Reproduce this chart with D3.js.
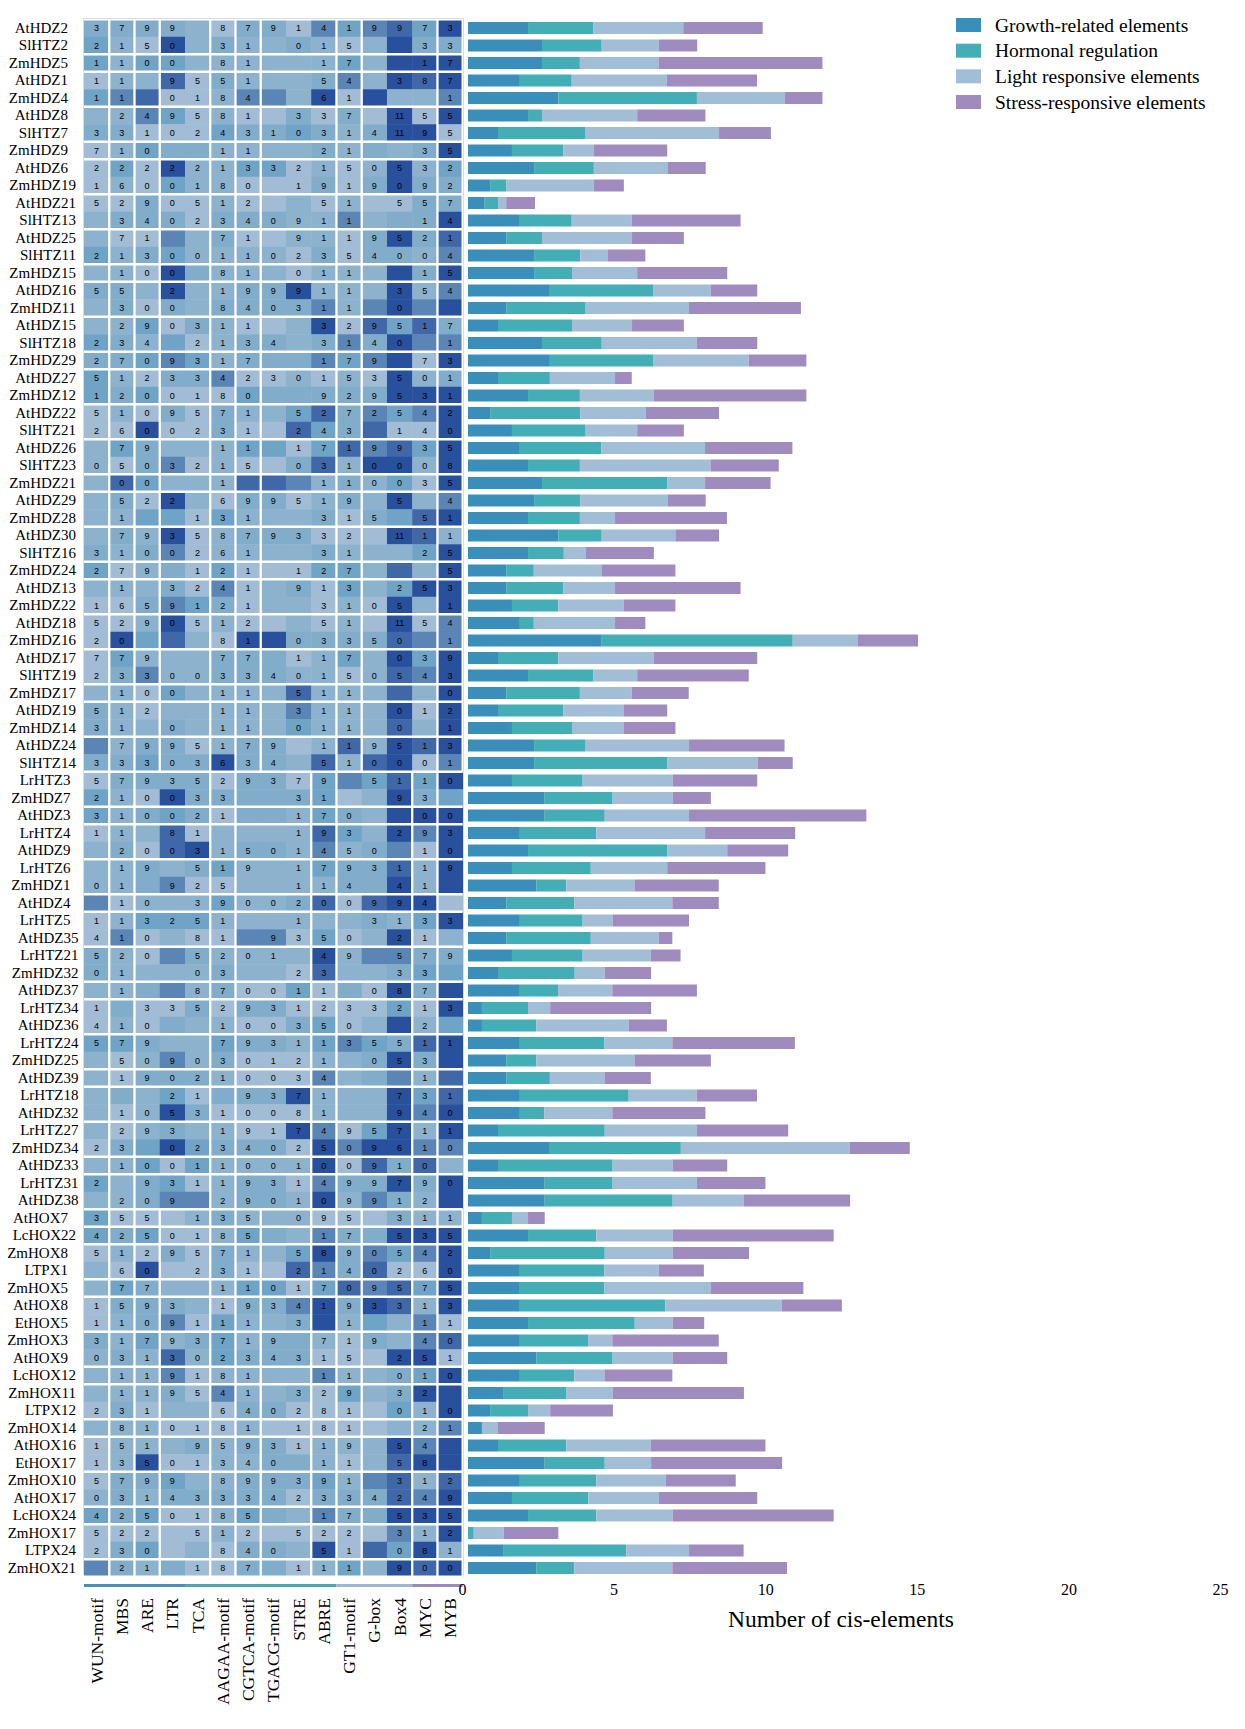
<!DOCTYPE html>
<html>
  <head>
    <title>Cis-elements</title>
    <style>
      body {
        margin: 0;
        background: #fff;
      }
      text {
        font-family: 'Liberation Serif', serif;
        fill: #000;
      }
    </style>
  </head>
  <body>
    <script src="https://cdn.jsdelivr.net/npm/d3@7"></script>
    <script>
      const width = 1245;
      const height = 1729;

      const geneNames = [
        'AtHDZ2', 'SlHTZ2', 'ZmHDZ5', 'AtHDZ1', 'ZmHDZ4', 'AtHDZ8', 'SlHTZ7', 'ZmHDZ9', 'AtHDZ6', 'ZmHDZ19',
        'AtHDZ21', 'SlHTZ13', 'AtHDZ25', 'SlHTZ11', 'ZmHDZ15', 'AtHDZ16', 'ZmHDZ11', 'AtHDZ15', 'SlHTZ18', 'ZmHDZ29',
        'AtHDZ27', 'ZmHDZ12', 'AtHDZ22', 'SlHTZ21', 'AtHDZ26', 'SlHTZ23', 'ZmHDZ21', 'AtHDZ29', 'ZmHDZ28', 'AtHDZ30',
        'SlHTZ16', 'ZmHDZ24', 'AtHDZ13', 'ZmHDZ22', 'AtHDZ18', 'ZmHDZ16', 'AtHDZ17', 'SlHTZ19', 'ZmHDZ17', 'AtHDZ19',
        'ZmHDZ14', 'AtHDZ24', 'SlHTZ14', 'LrHTZ3', 'ZmHDZ7', 'AtHDZ3', 'LrHTZ4', 'AtHDZ9', 'LrHTZ6', 'ZmHDZ1',
        'AtHDZ4', 'LrHTZ5', 'AtHDZ35', 'LrHTZ21', 'ZmHDZ32', 'AtHDZ37', 'LrHTZ34', 'AtHDZ36', 'LrHTZ24', 'ZmHDZ25',
        'AtHDZ39', 'LrHTZ18', 'AtHDZ32', 'LrHTZ27', 'ZmHDZ34', 'AtHDZ33', 'LrHTZ31', 'AtHDZ38', 'AtHOX7', 'LcHOX22',
        'ZmHOX8', 'LTPX1', 'ZmHOX5', 'AtHOX8', 'EtHOX5', 'ZmHOX3', 'AtHOX9', 'LcHOX12', 'ZmHOX11', 'LTPX12',
        'ZmHOX14', 'AtHOX16', 'EtHOX17', 'ZmHOX10', 'AtHOX17', 'LcHOX24', 'ZmHOX17', 'LTPX24', 'ZmHOX21'
      ];

      const elementNames = [
        'WUN-motif', 'MBS', 'ARE', 'LTR', 'TCA', 'AAGAA-motif', 'CGTCA-motif', 'TGACG-motif',
        'STRE', 'ABRE', 'GT1-motif', 'G-box', 'Box4', 'MYC', 'MYB'
      ];

      const categoryNames = [
        'Growth-related elements', 'Hormonal regulation', 'Light responsive elements', 'Stress-responsive elements'
      ];
      const categoryColors = ['#3a8fba', '#43aeb5', '#a2bed6', '#9f8bbe'];
      const stripColors = ['#4a90b5', '#4aa9ad', '#9fb6cf', '#9b8bba'];
      // how many heatmap columns each category covers
      const categoryColumns = [4, 6, 3, 2];

      const levelColors = ['#a1bcd4', '#8db2cd', '#81adca', '#6fa4c6', '#5a85b4', '#4068a8', '#28509c'];

      // bars, one array per category, in axis units
      const growthValues = [
        1.98, 2.44, 2.44, 1.71, 2.98, 1.98, 0.99, 1.45, 2.18, 0.73, 0.55, 1.71, 1.26, 2.18, 2.18, 2.7, 1.26, 0.99, 2.44, 2.7,
        0.99, 1.98, 0.73, 1.45, 1.71, 1.98, 2.44, 2.18, 1.98, 2.98, 1.98, 1.26, 1.26, 1.45, 1.71, 4.41, 0.99, 1.98, 1.26, 0.99,
        1.45, 2.18, 2.18, 1.45, 2.53, 2.53, 1.71, 1.98, 1.45, 2.25, 1.26, 1.71, 1.26, 1.45, 0.99, 1.71, 0.46, 0.46, 1.71, 1.26,
        1.26, 1.71, 1.71, 0.99, 2.7, 0.99, 2.53, 2.53, 0.46, 1.98, 0.73, 1.71, 1.71, 1.71, 1.98, 1.71, 2.25, 1.71, 1.18, 0.73,
        0.46, 0.99, 2.53, 1.71, 1.45, 1.98, 0, 1.18, 2.25
      ];
      const hormoneValues = [
        2.16, 1.97, 1.25, 1.71, 4.57, 0.46, 2.89, 1.7, 1.97, 0.54, 0.44, 1.71, 1.18, 1.52, 1.25, 3.42, 2.62, 2.44, 1.97, 3.42,
        1.71, 1.71, 2.97, 2.43, 2.69, 1.71, 4.13, 1.52, 1.71, 1.43, 1.18, 0.91, 1.89, 1.53, 0.46, 6.3, 1.99, 2.16, 2.43, 2.16,
        1.98, 1.7, 4.4, 2.33, 2.24, 1.98, 2.52, 4.59, 2.6, 0.99, 2.25, 2.07, 2.79, 2.33, 2.53, 1.26, 1.52, 1.79, 2.79, 0.99,
        1.44, 3.59, 0.81, 3.52, 4.32, 3.78, 2.24, 4.22, 0.99, 2.25, 3.78, 2.79, 2.79, 4.8, 3.52, 2.25, 2.52, 1.8, 2.07, 1.25,
        0, 2.25, 1.98, 2.52, 2.52, 2.25, 0.19, 4.04, 1.26
      ];
      const lightValues = [
        2.96, 1.89, 2.6, 3.14, 2.89, 3.14, 4.4, 0.99, 2.43, 2.88, 0.27, 1.98, 2.97, 0.9, 2.15, 1.89, 3.41, 1.98, 3.14, 3.14,
        2.15, 2.43, 2.16, 1.7, 3.42, 4.32, 1.25, 2.88, 1.16, 2.43, 0.73, 2.23, 1.7, 2.15, 2.68, 2.15, 3.14, 1.44, 1.71, 1.98,
        1.7, 3.41, 2.97, 2.97, 1.98, 2.78, 3.59, 1.98, 2.52, 2.25, 3.23, 0.99, 2.24, 2.25, 0.99, 1.79, 0.73, 3.05, 2.24, 3.24,
        1.8, 2.24, 2.24, 3.04, 5.57, 1.98, 2.78, 2.34, 0.53, 2.52, 2.24, 1.79, 3.51, 3.84, 1.25, 0.8, 1.98, 0.99, 1.53, 0.73,
        0.53, 2.79, 1.53, 2.29, 2.33, 2.52, 0.99, 2.07, 3.23
      ];
      const stressValues = [
        2.62, 1.26, 5.4, 2.97, 1.25, 2.25, 1.71, 2.43, 1.26, 0.99, 0.95, 3.59, 1.71, 1.25, 2.97, 1.53, 3.69, 1.71, 1.99, 1.9,
        0.55, 5.04, 2.42, 1.54, 2.88, 2.24, 2.16, 1.26, 3.69, 1.44, 2.24, 2.44, 4.14, 1.71, 1, 1.98, 3.42, 3.68, 1.88, 1.44,
        1.71, 3.15, 1.16, 2.79, 1.26, 5.85, 2.97, 2.01, 3.24, 2.78, 1.53, 2.52, 0.45, 0.98, 1.53, 2.79, 3.33, 1.26, 4.04, 2.52,
        1.53, 1.99, 3.07, 3.01, 1.98, 1.8, 2.26, 3.51, 0.55, 5.31, 2.52, 1.49, 3.05, 1.98, 1.04, 3.51, 1.8, 2.24, 4.32, 2.07,
        1.54, 3.78, 4.32, 2.31, 3.24, 5.31, 1.8, 1.8, 3.78
      ];
      const axisTicks = [0, 5, 10, 15, 20, 25];

      // heatmap: one string per gene, one character per element, index into levelColors
      const heatLevels = [
        '222210220434536', '310612112101622', '313311111131666', '011502111241656', '345001441606114',
        '114301002020606', '220003223212660', '013221111212126', '030611330101613', '010311000202622',
        '002001001010022', '122202221141226', '100412001102625', '312311110202214', '110621110111626',
        '221611226111614', '120212222414646', '113021001605352', '321301221242644', '223431222434606',
        '310224001010612', '323000322222666', '010202113524346', '006002005325006', '132111330354536',
        '102401002516616', '153111554121306', '120610220121614', '113303111202356', '121601222000651',
        '212401111211136', '301203000331516', '111204012031366', '002432011010616', '001601001010604',
        '063510662222544', '031112220131636', '024112221101546', '110311115111516', '210111114111606',
        '211211113111516', '412201220151656', '223226221515604', '022220220343536', '310622222301623',
        '312320221321666', '011501111531646', '120561221412406', '112123111322516', '112400111122616',
        '401113112505660', '013331111112136', '040100440301601', '210421111614422', '211112110511233',
        '112412003020626', '020020220000306', '010211002301613', '332113221343256', '101412000112626',
        '102221000412415', '121302226111635', '101620000111646', '101211006403616', '023632220646644',
        '113031111605251', '312301220422626', '112441221614216', '300012111000211', '323001321422666',
        '010202113624346', '106002005425006', '132111330354536', '022210224626516', '012403112613140',
        '213123122102145', '121513222000660', '111401111411236', '111204112031266', '020110220000316',
        '111000100000114', '011121220111646', '016001122101566', '022311222314515', '121222220222546',
        '323001321422666', '000001000000416', '023010221605361', '421200220131656'
      ];

      // number printed in each cell, '.' is no number, 'a' is 11
      const heatCounts = [
        '3799.8791419973', '2150.31.015..33', '1100.81..17..17', '11.9551..54.387', '11.0184..61...1',
        '.249581.337.a55', '331024310314a95', '710..11..21..35', '222221332150532', '1600180.1919092',
        '5290512..51.557', '.3402340911..14', '.71..71.9119521', '213001102354004', '.100.81.011..15',
        '55.2.199911.354', '.300.840311.0..', '.290311..329517', '234.2134.3140.1', '2709317..179.73',
        '512334230153501', '1200180..929531', '5109571.5272542', '2600231.243.140', '.79..11.1719935',
        '0503215.0310008', '.00..1...110035', '.522.699519.5.4', '.1..131..315.51', '.7935879332.a11',
        '3100261..31..25', '279.121.127...5', '.1.3241.913.253', '1659121..3105.1', '5290512..51.a54',
        '20...81.03350.1', '779..77.117.039', '233003340150543', '.100.11.511...0', '512..11.311.012',
        '31.0.11.011.0.1', '.7995179.119513', '33303634.510001', '5793529379.5110', '210033..31..93.',
        '310021..170..00', '11.81...193.293', '.20031501450.10', '.19.519.1793119', '01.925..114.41.',
        '.10.3900200994.', '113251..1..3133', '410.81.9350.21.', '520.5201.49.579', '01..03..23..33.',
        '.1..870011.087.', '1.3352931233213', '410..100350..2.', '579..7931135511', '.509030121.053.',
        '.190210034...1.', '...21.9371..731', '.105310081..940', '.293.1917495711', '23.023402509610',
        '.1001100100910.', '2.9311931499790', '.209.290109912.', '355.135.095.311', '4250185..17.535',
        '5129571.5890542', '.60.231.2140260', '.77..1101709575', '1593.1934193313', '1109111.3.1..11',
        '31793719.719.40', '03130234315.251', '.119181..11.010', '.119541.329.32.', '231..640281.010',
        '.810181.181..21', '151.9593119.54.', '13501340.11.58.', '5799.899391.312', '031433342334249',
        '4250185..17.535', '522.512.522.312', '230..840.51.081', '.21.187.111.900'
      ];

      // last gene of each tree cluster, a white gap follows it
      const rowBreaks = [
        1, 2, 4, 6, 7, 9, 11, 13, 14, 16, 18, 19, 21, 23, 25, 26, 28, 30, 31, 33, 35, 37, 38, 40, 42, 44, 45, 47, 49, 50,
        52, 54, 55, 57, 59, 60, 62, 64, 65, 67, 68, 69, 71, 72, 74, 76, 77, 79, 80, 82, 84, 85, 87, 88
      ];
      // the three blocks of the heatmap have different column clusters
      const blocks = [
        { from: 0, to: 42, breaks: [0, 1, 2, 4, 5, 6, 9, 10, 13, 14] },
        { from: 43, to: 67, breaks: [0, 1, 4, 5, 8, 9, 12, 13] },
        { from: 68, to: 88, breaks: [0, 1, 2, 4, 5, 6, 8, 9, 10, 12, 13, 14] }
      ];

      const svg = d3
        .select('body')
        .append('svg')
        .attr('width', width)
        .attr('height', height)
        .style('display', 'block');

      const y = d3.scaleBand().domain(geneNames).range([19.25, 1576.75]);
      const x = d3.scaleBand().domain(elementNames).range([84, 462.7]);
      const barX = d3.scaleLinear().domain([0, 25]).range([468, 1226]);
      const levelColor = d3.scaleOrdinal().domain(d3.range(levelColors.length)).range(levelColors);

      // heatmap cells
      const cells = geneNames.flatMap((gene, i) =>
        elementNames.map((element, j) => ({
          gene,
          element,
          level: +heatLevels[i][j],
          count: heatCounts[i][j]
        }))
      );

      const heat = svg.append('g');
      heat
        .selectAll('rect')
        .data(cells)
        .enter()
        .append('rect')
        .attr('x', (d) => x(d.element))
        .attr('y', (d) => y(d.gene))
        .attr('width', x.bandwidth() + 0.5)
        .attr('height', y.bandwidth() + 0.5)
        .attr('fill', (d) => levelColor(d.level));

      heat
        .selectAll('text')
        .data(cells.filter((d) => d.count !== '.'))
        .enter()
        .append('text')
        .attr('x', (d) => x(d.element) + x.bandwidth() / 2)
        .attr('y', (d) => y(d.gene) + y.bandwidth() / 2)
        .attr('dy', '0.35em')
        .attr('text-anchor', 'middle')
        .style('font-size', '9px')
        .style('font-family', "'Liberation Sans', sans-serif")
        .text((d) => (d.count === 'a' ? '11' : d.count));

      // white gaps between clusters
      const gaps = svg.append('g').attr('stroke', '#fff').attr('stroke-width', 2.3);
      gaps
        .selectAll('.row-gap')
        .data(rowBreaks)
        .enter()
        .append('line')
        .attr('x1', x.range()[0])
        .attr('x2', x.range()[1])
        .attr('y1', (d) => y(geneNames[d]) + y.bandwidth())
        .attr('y2', (d) => y(geneNames[d]) + y.bandwidth());
      gaps
        .append('line')
        .attr('x1', x.range()[0])
        .attr('x2', x.range()[1])
        .attr('y1', y.range()[0])
        .attr('y2', y.range()[0]);
      blocks.forEach((block) => {
        gaps
          .selectAll(null)
          .data(block.breaks)
          .enter()
          .append('line')
          .attr('x1', (d) => x(elementNames[d]) + x.bandwidth())
          .attr('x2', (d) => x(elementNames[d]) + x.bandwidth())
          .attr('y1', y(geneNames[block.from]))
          .attr('y2', y(geneNames[block.to]) + y.bandwidth());
      });

      // thin grey frame round the heatmap
      svg
        .append('path')
        .attr('d', `M83.5,1575V18.5H463.5V1575`)
        .attr('fill', 'none')
        .attr('stroke', '#dcdcdc');

      // gene labels, right edge moves with the number of digits and the block
      const labelEnd = (name, i) => {
        const twoDigits = name.replace(/\D/g, '').length > 1;
        const midBlock = i >= 43 && i <= 67;
        return (twoDigits ? 76 : 68) + (midBlock ? 2.5 : 0);
      };
      svg
        .append('g')
        .selectAll('text')
        .data(geneNames)
        .enter()
        .append('text')
        .attr('x', labelEnd)
        .attr('y', (d) => y(d) + y.bandwidth() / 2)
        .attr('dy', '0.32em')
        .attr('text-anchor', 'end')
        .style('font-size', '15px')
        .text((d) => d);

      // strip under the heatmap, coloured by category
      let col = 0;
      const strips = categoryColumns.map((n, i) => {
        const s = { from: col, to: col + n - 1, color: stripColors[i] };
        col += n;
        return s;
      });
      svg
        .append('g')
        .selectAll('rect')
        .data(strips)
        .enter()
        .append('rect')
        .attr('x', (d) => x(elementNames[d.from]))
        .attr('y', 1584)
        .attr('width', (d) => x(elementNames[d.to]) + x.bandwidth() - x(elementNames[d.from]))
        .attr('height', 3)
        .attr('fill', (d) => d.color);

      // element labels
      svg
        .append('g')
        .selectAll('text')
        .data(elementNames)
        .enter()
        .append('text')
        .attr('transform', (d) => `translate(${x(d) + x.bandwidth() / 2},1598) rotate(-90)`)
        .attr('dy', '0.35em')
        .attr('text-anchor', 'end')
        .style('font-size', '17.5px')
        .text((d) => d);

      // stacked bars
      const table = geneNames.map((gene, i) => ({
        gene,
        [categoryNames[0]]: growthValues[i],
        [categoryNames[1]]: hormoneValues[i],
        [categoryNames[2]]: lightValues[i],
        [categoryNames[3]]: stressValues[i]
      }));
      const series = d3.stack().keys(categoryNames)(table);
      const barHeight = 12;

      svg
        .append('g')
        .selectAll('g')
        .data(series)
        .enter()
        .append('g')
        .attr('fill', (d, i) => categoryColors[i])
        .selectAll('rect')
        .data((d) => d)
        .enter()
        .append('rect')
        .attr('x', (d) => barX(d[0]))
        .attr('y', (d) => y(d.data.gene) + (y.bandwidth() - barHeight) / 2)
        .attr('width', (d) => barX(d[1]) - barX(d[0]))
        .attr('height', barHeight);

      // x axis, labels only, its zero sits a little left of the bar start
      const axis = svg
        .append('g')
        .attr('transform', 'translate(-6,1581)')
        .call(d3.axisBottom(barX).tickValues(axisTicks).tickSize(0).tickFormat(d3.format('d')));
      axis.select('.domain').remove();
      axis.selectAll('text').style('font-size', '16px').style('font-family', "'Liberation Serif', serif");

      svg
        .append('text')
        .attr('x', 841)
        .attr('y', 1627)
        .attr('text-anchor', 'middle')
        .style('font-size', '23.5px')
        .text('Number of cis-elements');

      // legend
      const legendY = d3.scalePoint().domain(categoryNames).range([25, 102]);
      const legend = svg
        .append('g')
        .selectAll('g')
        .data(categoryNames)
        .enter()
        .append('g')
        .attr('transform', (d) => `translate(956,${legendY(d)})`);
      legend
        .append('rect')
        .attr('y', -7)
        .attr('width', 25)
        .attr('height', 14)
        .attr('fill', (d, i) => categoryColors[i]);
      legend
        .append('text')
        .attr('x', 39)
        .attr('dy', '0.35em')
        .style('font-size', '19.5px')
        .text((d) => d);
    </script>
  </body>
</html>
